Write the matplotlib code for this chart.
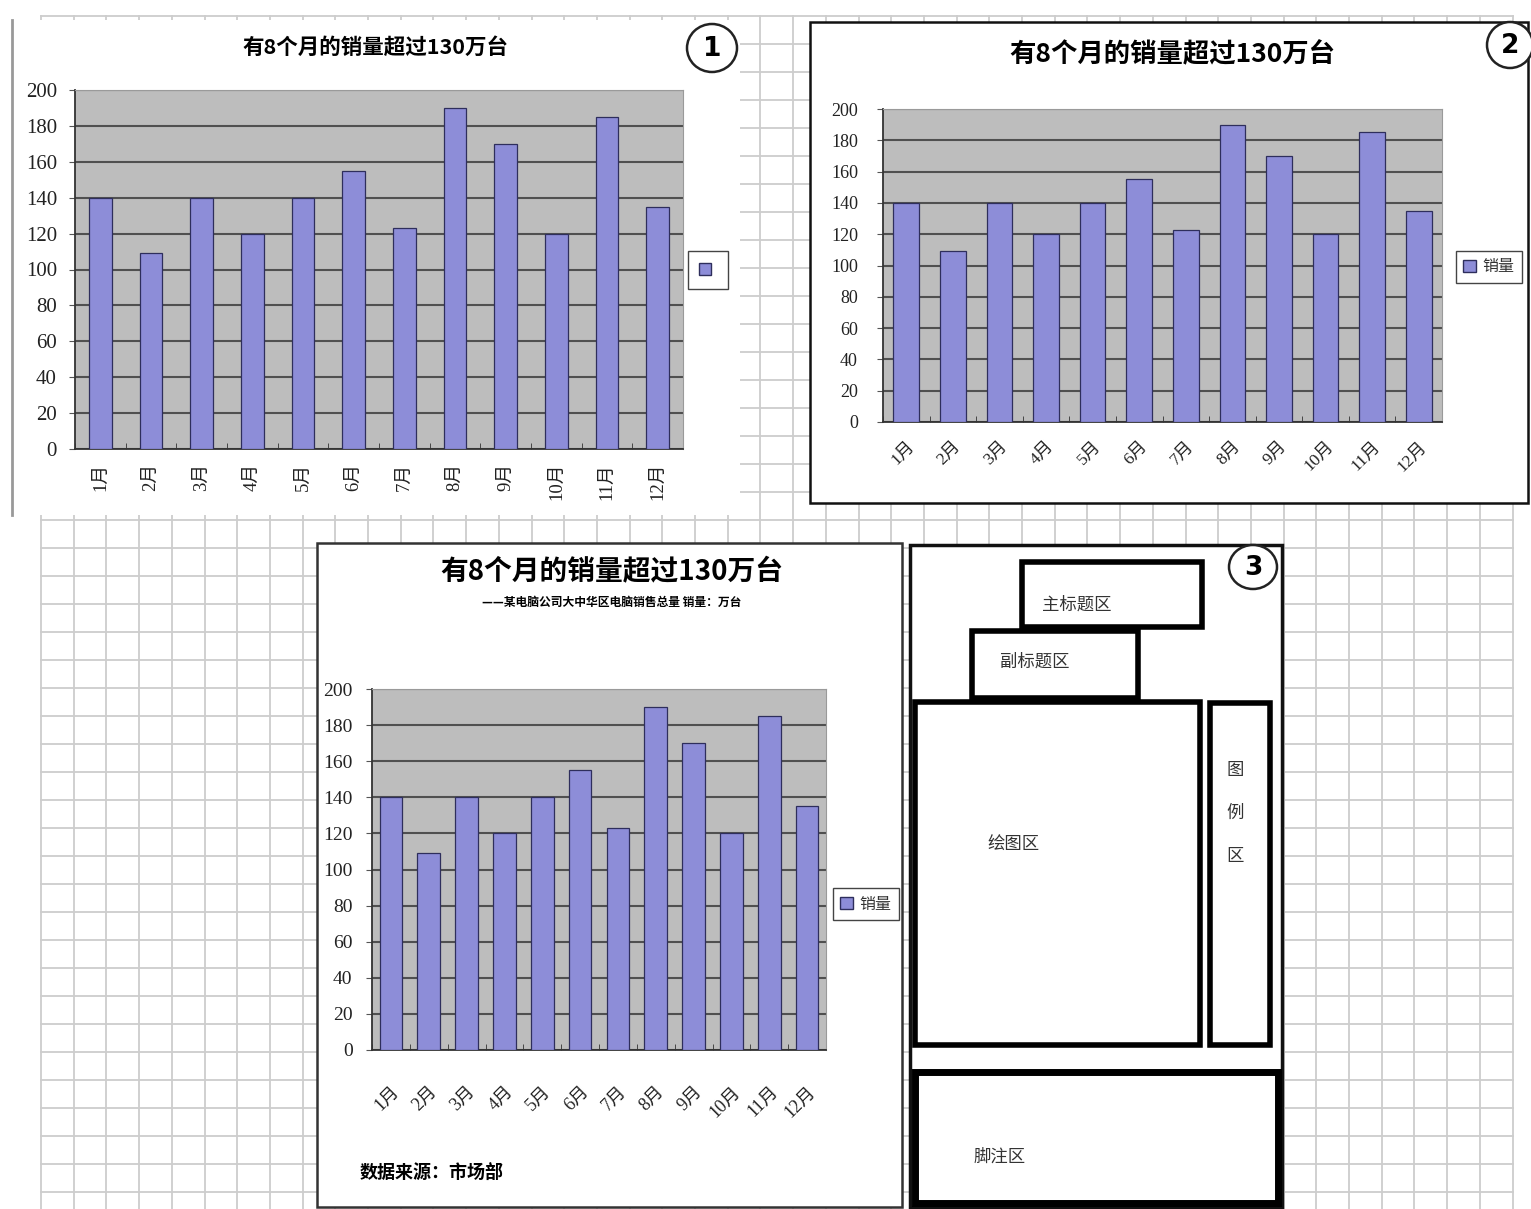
import matplotlib
matplotlib.use("Agg")
import matplotlib.pyplot as plt
from matplotlib.patches import Rectangle, Ellipse, Patch
import numpy as np

plt.rcParams['font.family'] = ['Noto Sans CJK SC', 'DejaVu Sans']

# data
months = ["1月", "2月", "3月", "4月", "5月", "6月", "7月", "8月", "9月", "10月", "11月", "12月"]
sales = [140, 109, 140, 120, 140, 155, 123, 190, 170, 120, 185, 135]
yticks = [0, 20, 40, 60, 80, 100, 120, 140, 160, 180, 200]
series_name = "销量"
title = "有8个月的销量超过130万台"
subtitle = "——某电脑公司大中华区电脑销售总量 销量：万台"
footnote = "数据来源：市场部"
zones = ["主标题区", "副标题区", "绘图区", "图例区", "脚注区"]

# colours
BAR = "#8d8dd8"
EDGE = "#2e2e5c"
PLOT_BG = "#bdbdbd"
GRID = "#505050"
PAPER = "#cdcdcd"
SERIF = ['Liberation Serif', 'Noto Sans CJK SC']

W, H = 1531, 1209
fig = plt.figure(figsize=(W / 100, H / 100), dpi=100)
fig.patch.set_facecolor("white")

# background in pixel coordinates (grid paper, frames)
bg = fig.add_axes([0, 0, 1, 1])
bg.set_xlim(0, W)
bg.set_ylim(H, 0)
bg.axis("off")

for gx in np.arange(41, 1515, 32.7):
    bg.plot([gx, gx], [16, H], color=PAPER, lw=1.3, zorder=1)
for gy in np.arange(16, H, 28):
    bg.plot([41, 1513], [gy, gy], color=PAPER, lw=1.3, zorder=1)


def box(x0, y0, x1, y1, lw=0, ec="none", z=2):
    bg.add_patch(Rectangle((x0, y0), x1 - x0, y1 - y0, facecolor="white",
                           edgecolor=ec, linewidth=lw, zorder=z))


def circle_num(cx, cy, w, h, s):
    bg.add_patch(Ellipse((cx, cy), w, h, facecolor="white", edgecolor="#222",
                         linewidth=1.8, zorder=5))
    bg.text(cx, cy + 1, s, ha="center", va="center", fontsize=19,
            fontweight="bold", family="DejaVu Sans", zorder=6)


# chart regions
box(12, 20, 740, 515)
bg.plot([12, 12], [20, 515], color="#999999", lw=2, zorder=3)
box(810, 22, 1528, 503, lw=1.8, ec="#111")
box(317, 543, 902, 1207, lw=1.8, ec="#333")
box(910, 545, 1282, 1207, lw=2.5, ec="#111")

# layout diagram
box(1022, 562, 1202, 627, lw=4, ec="black", z=3)
box(972, 631, 1138, 698, lw=4, ec="black", z=3)
box(915, 702, 1200, 1045, lw=4, ec="black", z=3)
box(1210, 703, 1270, 1045, lw=4, ec="black", z=3)
box(915, 1072, 1278, 1203, lw=5, ec="black", z=3)
zc = "#333333"
zs = 12.5
bg.text(1077, 605, zones[0], ha="center", va="center", fontsize=zs, color=zc, zorder=4)
bg.text(1035, 662, zones[1], ha="center", va="center", fontsize=zs, color=zc, zorder=4)
bg.text(1013, 844, zones[2], ha="center", va="center", fontsize=zs, color=zc, zorder=4)
for i, ch in enumerate(zones[3]):
    bg.text(1235, 770 + i * 43, ch, ha="center", va="center", fontsize=zs, color=zc, zorder=4)
bg.text(1000, 1157, zones[4], ha="center", va="center", fontsize=zs, color=zc, zorder=4)

circle_num(712, 48, 50, 48, "1")
circle_num(1510, 45, 46, 46, "2")
circle_num(1253, 567, 48, 44, "3")


def px_axes(x0, y0, x1, y1):
    return fig.add_axes([x0 / W, 1 - y1 / H, (x1 - x0) / W, (y1 - y0) / H])


def bar_chart(ax, width, rot, ysize, xsize, xpad, ypad):
    x = np.arange(len(months))
    ax.bar(x, sales, width=width, color=BAR, edgecolor=EDGE, linewidth=0.9, zorder=3)
    ax.set_facecolor(PLOT_BG)
    ax.set_xlim(-0.5, len(months) - 0.5)
    ax.set_ylim(0, 200)
    ax.set_yticks(yticks)
    ax.set_yticklabels([str(v) for v in yticks], fontsize=ysize, family=SERIF, color="#222")
    ax.yaxis.grid(True, color=GRID, linewidth=1.5)
    ax.set_axisbelow(True)
    ax.set_xticks(x)
    if rot == 90:
        ax.set_xticklabels(months, rotation=90, fontsize=xsize, family=SERIF, color="#222")
    else:
        ax.set_xticklabels(months, rotation=rot, ha="right", rotation_mode="anchor",
                           fontsize=xsize, family=SERIF, color="#222")
    ax.set_xticks(np.arange(-0.5, len(months)), minor=True)
    ax.tick_params(axis="x", which="major", length=0, pad=xpad)
    ax.tick_params(axis="x", which="minor", length=4, direction="in", color="#333")
    ax.tick_params(axis="y", length=4, color="#555", pad=ypad)
    for s in ["left", "bottom"]:
        ax.spines[s].set_color("#333")
        ax.spines[s].set_linewidth(1.3)
    for s in ["top", "right"]:
        ax.spines[s].set_color("#9a9a9a")
        ax.spines[s].set_linewidth(0.8)


def legend(ax, label, cx, cy, size, pad=0.45):
    leg = ax.legend([Patch(facecolor=BAR, edgecolor=EDGE)], [label], loc="center",
                    bbox_to_anchor=(cx / W, 1 - cy / H), bbox_transform=fig.transFigure,
                    fancybox=False, edgecolor="#444", framealpha=1, fontsize=size,
                    handlelength=0.8, handleheight=0.8, handletextpad=0.4, borderpad=pad,
                    labelcolor="#333")
    leg.get_frame().set_linewidth(1.0)


# chart 1
ax1 = px_axes(75, 90, 683, 449)
bar_chart(ax1, 0.45, 90, 15, 13.5, 10, 9)
legend(ax1, "", 708, 270, 11, pad=0.7)
fig.text(375 / W, 1 - 47 / H, title, ha="center", va="center", fontsize=15.5, fontweight="bold")

# chart 2
ax2 = px_axes(883, 109, 1442, 422)
bar_chart(ax2, 0.55, 45, 13, 12.5, 12, 14)
legend(ax2, series_name, 1489, 267, 11.5)
fig.text(1172 / W, 1 - 55 / H, title, ha="center", va="center", fontsize=19, fontweight="bold")

# chart 3
ax3 = px_axes(372, 689, 826, 1050)
bar_chart(ax3, 0.6, 45, 14, 13, 24, 10)
legend(ax3, series_name, 866, 904, 11.5)
fig.text(612 / W, 1 - 572 / H, title, ha="center", va="center", fontsize=20, fontweight="bold")
fig.text(612 / W, 1 - 602 / H, subtitle, ha="center", va="center", fontsize=8.5, fontweight="bold")
fig.text(360 / W, 1 - 1172 / H, footnote, ha="left", va="center", fontsize=13, fontweight="bold")

fig.savefig("out.png", dpi=100)
